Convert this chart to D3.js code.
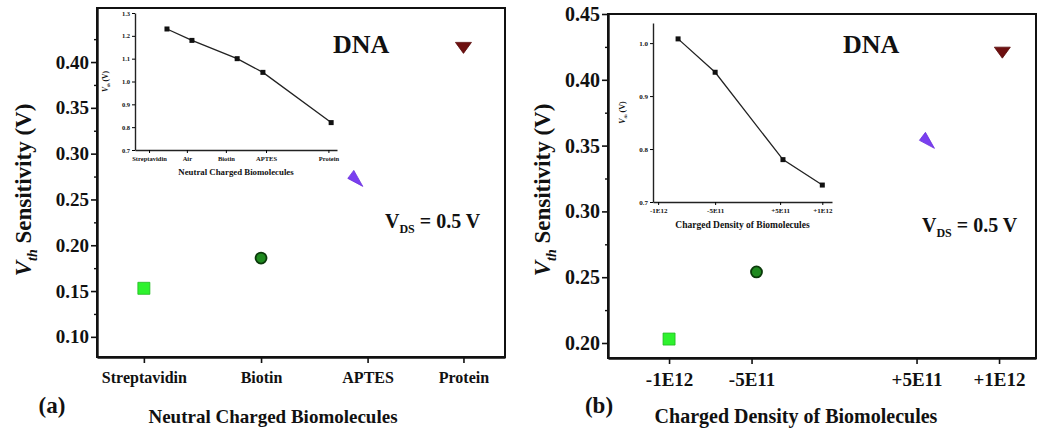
<!DOCTYPE html>
<html>
<head>
<meta charset="utf-8">
<script src="https://cdn.jsdelivr.net/npm/d3@7"></script>
<style>
    body { margin: 0; background: #fff; }
    #chart { position: relative; width: 1037px; height: 431px; }
    #chart svg { position: absolute; left: 0; top: 0; }
    .frame { position: absolute; box-sizing: border-box; border-style: solid; border-color: #111; pointer-events: none; }
    svg text { font-family: "Liberation Serif", "Times New Roman", serif; font-weight: bold; fill: #111; }
</style>
</head>
<body>
<div id="chart"></div>
<script>
// ---- Panel (a): neutral charged biomolecules ----
const catA = ['Streptavidin', 'Biotin', 'APTES', 'Protein'];
const catAPos = [1, 2.1, 3.1, 4];
const pointAPos = [1, 2.1, 2.98, 4];
const sensA = [0.153, 0.186, 0.273, 0.416];
const yTicksA = [0.10, 0.15, 0.20, 0.25, 0.30, 0.35, 0.40];
const yMinorA = [0.125, 0.175, 0.225, 0.275, 0.325, 0.375, 0.425];

// inset (a)
const insetACats = ['Streptavidin', 'Air', 'Biotin', 'APTES', 'Protein'];
const insetATickPos = [0, 0.97, 1.97, 3.0, 4.6];
const insetAPointPos = [0.46, 1.1, 2.26, 2.92, 4.67];
const insetAVth = [1.23, 1.18, 1.10, 1.04, 0.82];
const insetAYTicks = [0.7, 0.8, 0.9, 1.0, 1.1, 1.2, 1.3];

// ---- Panel (b): charged density ----
const tickB = ['-1E12', '-5E11', '+5E11', '+1E12'];
const tickBVal = [-1e12, -5e11, 5e11, 1e12];
const densB = [-1e12, -4.7e11, 5.6e11, 1.02e12];
const sensB = [0.203, 0.254, 0.354, 0.421];
const yTicksB = [0.20, 0.25, 0.30, 0.35, 0.40, 0.45];
const yMinorB = [0.225, 0.275, 0.325, 0.375, 0.425];

// inset (b)
const insetBTicks = ['-1E12', '-5E11', '+5E11', '+1E12'];
const insetBTickPos = [0, 1, 2.14, 2.88];
const insetBPointPos = [0.35, 1, 2.19, 2.88];
const insetBVth = [1.008, 0.945, 0.78, 0.732];
const insetBYTicks = [0.7, 0.8, 0.9, 1.0];

// marker styles, one per point
const markers = [
    { type: 'square', fill: '#2ef22e', stroke: '#1fb81f' },
    { type: 'circle', fill: '#1f8a1f', stroke: '#0b3a0b' },
    { type: 'arrow', fill: '#7a3ff0', stroke: '#6a30dc' },
    { type: 'down', fill: '#6e1010', stroke: '#5a0c0c' }
];

const panelA = { left: 97, right: 505, top: 8, bottom: 357 };
const panelB = { left: 608, right: 1036, top: 14, bottom: 358 };

const W = 1037, H = 431;
const svg = d3.select('#chart').append('svg')
    .attr('width', W)
    .attr('height', H);

function markerPath(type) {
    if (type === 'square') return 'M-6,-6 L6,-6 L6,6 L-6,6 Z';
    if (type === 'down') return 'M-8,-5 L8,-5 L0,6 Z';
    return 'M-7,0 L-1,-8 L8,8 Z';
}

function mainPanel(o) {
    const x = d3.scaleLinear().domain(o.xDomain).range([o.left, o.right]);
    const y = d3.scaleLinear().domain(o.yDomain).range([o.bottom, o.top]);
    const g = svg.append('g');

    // y axis, major + minor ticks
    const ya = g.append('g')
        .attr('transform', `translate(${o.left},0)`)
        .call(d3.axisLeft(y).tickValues(o.yTicks).tickSize(6).tickSizeOuter(0)
            .tickPadding(2).tickFormat(d3.format('.2f')));
    ya.selectAll('line').attr('stroke', '#111').attr('stroke-width', 1.6);
    ya.select('.domain').attr('stroke', '#111').attr('stroke-width', 2.4);
    ya.selectAll('text').style('font-size', o.yFont + 'px');

    const ym = g.append('g')
        .attr('transform', `translate(${o.left},0)`)
        .call(d3.axisLeft(y).tickValues(o.yMinor).tickSize(3).tickSizeOuter(0).tickFormat(''));
    ym.selectAll('line').attr('stroke', '#111').attr('stroke-width', 1.4);
    ym.select('.domain').remove();

    // x axis
    const xa = g.append('g')
        .attr('transform', `translate(0,${o.bottom})`)
        .call(d3.axisBottom(x).tickValues(o.xTicks).tickSize(6).tickSizeOuter(0).tickPadding(9)
            .tickFormat((d, i) => o.xLabels[i]));
    xa.selectAll('line').attr('stroke', '#111').attr('stroke-width', 1.6);
    xa.select('.domain').attr('stroke', '#111').attr('stroke-width', 2.4);
    xa.selectAll('text').style('font-size', o.xFont + 'px');

    // points
    o.px.forEach((v, i) => {
        const m = markers[i];
        const cx = x(v), cy = y(o.py[i]);
        if (m.type === 'circle') {
            g.append('circle').attr('cx', cx).attr('cy', cy).attr('r', 5.5)
                .attr('fill', m.fill).attr('stroke', m.stroke).attr('stroke-width', 1.8);
        } else {
            g.append('path').attr('d', markerPath(m.type))
                .attr('transform', `translate(${cx},${cy})`)
                .attr('fill', m.fill).attr('stroke', m.stroke).attr('stroke-width', 0.8);
        }
    });

    // y title
    const yt = g.append('text')
        .attr('transform', `translate(${o.yTitleX},${o.yTitleY}) rotate(-90)`)
        .attr('text-anchor', 'middle')
        .style('font-size', '23px');
    yt.append('tspan').text('V').style('font-style', 'italic');
    yt.append('tspan').text('th').style('font-style', 'italic').style('font-size', '14px').attr('dy', 6);
    yt.append('tspan').text(' Sensitivity (V)').attr('dy', -6);

    // x title
    g.append('text')
        .attr('x', o.xTitleX).attr('y', 423)
        .attr('text-anchor', 'middle')
        .style('font-size', o.titleFont + 'px')
        .text(o.xTitle);

    // panel letter
    g.append('text')
        .attr('x', o.letterX).attr('y', 413)
        .attr('text-anchor', 'middle')
        .style('font-size', '23px')
        .text(o.letter);

    // DNA label
    g.append('text')
        .attr('x', o.dnaX).attr('y', 53)
        .style('font-size', '26px')
        .text('DNA');

    // VDS label
    const vt = g.append('text')
        .attr('x', o.vdsX).attr('y', o.vdsY)
        .style('font-size', '20px');
    vt.append('tspan').text('V');
    vt.append('tspan').text('DS').style('font-size', '12px').attr('dy', 5);
    vt.append('tspan').text(' = 0.5 V').attr('dy', -5);
}

function inset(o) {
    const x = d3.scaleLinear().domain(o.xDomain).range([o.left, o.right]);
    const y = d3.scaleLinear().domain(o.yDomain).range([o.bottom, o.top]);
    const g = svg.append('g');

    const ya = g.append('g')
        .attr('transform', `translate(${o.left},0)`)
        .call(d3.axisLeft(y).tickValues(o.yTicks).tickSize(3).tickSizeOuter(0)
            .tickPadding(2).tickFormat(d3.format('.1f')));
    ya.select('.domain').attr('stroke-width', 1.4).attr('stroke', '#222');
    ya.selectAll('text').style('font-size', o.tickFont + 'px');

    const xa = g.append('g')
        .attr('transform', `translate(0,${o.bottom})`)
        .call(d3.axisBottom(x).tickValues(o.xTicks).tickSize(3).tickSizeOuter(0).tickPadding(3)
            .tickFormat((d, i) => o.xLabels[i]));
    xa.select('.domain').attr('stroke-width', 1.4).attr('stroke', '#222');
    xa.selectAll('text').style('font-size', o.tickFont + 'px');

    const line = d3.line().x(d => x(d[0])).y(d => y(d[1]));
    const pts = o.px.map((v, i) => [v, o.py[i]]);
    g.append('path').datum(pts).attr('d', line)
        .attr('fill', 'none').attr('stroke', '#222').attr('stroke-width', 1.3);
    g.selectAll('.pt').data(pts).enter().append('rect')
        .attr('x', d => x(d[0]) - 2.5).attr('y', d => y(d[1]) - 2.5)
        .attr('width', 5).attr('height', 5).attr('fill', '#111');

    g.append('text')
        .attr('x', (o.left + o.right) / 2).attr('y', o.bottom + o.titleDy)
        .attr('text-anchor', 'middle')
        .style('font-size', o.titleFont + 'px')
        .text(o.xTitle);

    const yt = g.append('text')
        .attr('transform', `translate(${o.yTitleX},${(o.top + o.bottom) / 2}) rotate(-90)`)
        .attr('text-anchor', 'middle')
        .style('font-size', o.tickFont + 1 + 'px');
    yt.append('tspan').text('V').style('font-style', 'italic');
    yt.append('tspan').text('th').style('font-style', 'italic').style('font-size', '0.6em').attr('dy', 2);
    yt.append('tspan').text(' (V)').attr('dy', -2);
}

mainPanel(Object.assign({
    xDomain: [0.56, 4.39], yDomain: [0.078, 0.459],
    xTicks: catAPos, xLabels: catA, px: pointAPos, py: sensA,
    yTicks: yTicksA, yMinor: yMinorA, yFont: 19, xFont: 16,
    yTitleX: 31, yTitleY: 190, xTitle: 'Neutral Charged Biomolecules', xTitleX: 273, titleFont: 19,
    letter: '(a)', letterX: 52, dnaX: 333, vdsX: 385, vdsY: 228
}, panelA));

mainPanel(Object.assign({
    xDomain: [-1.37e12, 1.224e12], yDomain: [0.1886, 0.45],
    xTicks: tickBVal, xLabels: tickB, px: densB, py: sensB,
    yTicks: yTicksB, yMinor: yMinorB, yFont: 20, xFont: 19,
    yTitleX: 550, yTitleY: 190, xTitle: 'Charged Density of Biomolecules', xTitleX: 796, titleFont: 20,
    letter: '(b)', letterX: 599, dnaX: 843, vdsX: 922, vdsY: 232
}, panelB));

inset({
    left: 135, right: 337, top: 13, bottom: 150,
    xDomain: [-0.36, 4.82], yDomain: [0.7, 1.3],
    xTicks: insetATickPos, xLabels: insetACats, px: insetAPointPos, py: insetAVth,
    yTicks: insetAYTicks, tickFont: 6.5, titleFont: 8.8, titleDy: 25,
    xTitle: 'Neutral Charged Biomolecules', yTitleX: 108
});

inset({
    left: 653, right: 832, top: 23, bottom: 202,
    xDomain: [-0.09, 3.05], yDomain: [0.7, 1.038],
    xTicks: insetBTickPos, xLabels: insetBTicks, px: insetBPointPos, py: insetBVth,
    yTicks: insetBYTicks, tickFont: 7, titleFont: 9.5, titleDy: 26,
    xTitle: 'Charged Density of Biomolecules', yTitleX: 625
});

// plot frames as html boxes laid over the svg
d3.select('#chart').selectAll('div.frame')
    .data([panelA, panelB])
    .enter().append('div')
    .attr('class', 'frame')
    .style('left', p => (p.left - 1) + 'px')
    .style('top', p => (p.top - 1) + 'px')
    .style('width', p => (p.right - p.left + 2) + 'px')
    .style('height', p => (p.bottom - p.top + 2) + 'px')
    .style('border-width', '2px 2px 2.4px 2.4px');
</script>
</body>
</html>
